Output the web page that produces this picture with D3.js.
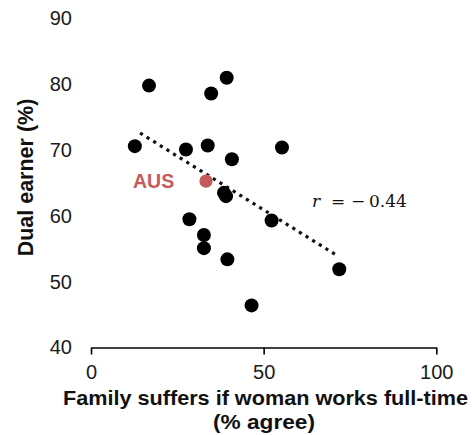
<!DOCTYPE html>
<html>
<head>
<meta charset="utf-8">
<script src="https://cdn.jsdelivr.net/npm/d3@7/dist/d3.min.js"></script>
<style>
  html, body { margin: 0; padding: 0; background: #fff; }
  svg { display: block; }
</style>
</head>
<body>
<svg id="chart" width="472" height="435"></svg>
<script>
// Share agreeing that family life suffers when the woman works full-time (x)
// against share of dual-earner couples (y), one point per country.
const familySuffers = [16.8, 39.3, 34.8, 12.7, 27.5, 33.8, 40.8, 55.3, 38.5, 39.1, 28.5, 52.3, 32.7, 32.7, 39.5, 71.9, 46.5];
const dualEarner    = [79.8, 81.0, 78.6, 70.6, 70.1, 70.7, 68.6, 70.4, 63.5, 63.0, 59.5, 59.3, 57.1, 55.1, 53.4, 51.9, 46.4];

// Highlighted country
const highlightLabel = "AUS";
const highlightX = [33.3];
const highlightY = [65.3];

// Fitted trend line end points and its correlation
const trendX = [14.2, 71.2];
const trendY = [72.6, 54.0];
const correlation = "\u22120.44";

const xTicks = [0, 50, 100];
const yTicks = [40, 50, 60, 70, 80, 90];

const svg = d3.select("#chart");

const x = d3.scaleLinear().domain([0, 100]).range([91, 436.3]);
const y = d3.scaleLinear().domain([40, 90]).range([347.5, 18.5]);

// x axis: baseline with downward ticks
const xAxis = d3.axisBottom(x).tickValues(xTicks).tickSize(7).tickSizeOuter(0).tickPadding(10);
const gx = svg.append("g").attr("transform", `translate(0,${y(40)})`).call(xAxis);
gx.select(".domain").attr("stroke", "#000").attr("stroke-width", 1.6);
gx.selectAll(".tick line").attr("stroke", "#000").attr("stroke-width", 1.6);
gx.selectAll(".tick text")
  .attr("font-family", "'Liberation Sans', Arial, sans-serif")
  .attr("font-size", 20).attr("fill", "#1a1a1a");

// y axis: labels only
const yAxis = d3.axisLeft(y).tickValues(yTicks).tickSize(0).tickPadding(0);
const gy = svg.append("g").attr("transform", "translate(72,0)").call(yAxis);
gy.select(".domain").remove();
gy.selectAll(".tick text")
  .attr("font-family", "'Liberation Sans', Arial, sans-serif")
  .attr("font-size", 20).attr("fill", "#1a1a1a");

// axis titles
const titleFont = "'Liberation Sans', Arial, sans-serif";
svg.append("text")
  .attr("x", 265.5).attr("y", 404.5)
  .attr("text-anchor", "middle")
  .attr("font-family", titleFont)
  .attr("font-weight", "bold").attr("font-size", 20.5).attr("fill", "#111")
  .attr("textLength", 405).attr("lengthAdjust", "spacingAndGlyphs")
  .text("Family suffers if woman works full-time");
svg.append("text")
  .attr("x", 264).attr("y", 429)
  .attr("text-anchor", "middle")
  .attr("font-family", titleFont)
  .attr("font-weight", "bold").attr("font-size", 20.5).attr("fill", "#111")
  .attr("textLength", 102).attr("lengthAdjust", "spacingAndGlyphs")
  .text("(% agree)");

svg.append("text")
  .attr("transform", "translate(33,177.5) rotate(-90)")
  .attr("text-anchor", "middle")
  .attr("font-family", titleFont)
  .attr("font-weight", "bold").attr("font-size", 21.5).attr("fill", "#111")
  .text("Dual earner (%)");

// trend line (dotted)
svg.append("line")
  .attr("x1", x(trendX[0])).attr("y1", y(trendY[0]))
  .attr("x2", x(trendX[1])).attr("y2", y(trendY[1]))
  .attr("stroke", "#111").attr("stroke-width", 3.2)
  .attr("stroke-dasharray", "3.2,4.6");

// country points
svg.append("g").selectAll("circle")
  .data(d3.zip(familySuffers, dualEarner))
  .join("circle")
  .attr("cx", d => x(d[0])).attr("cy", d => y(d[1]))
  .attr("r", 7).attr("fill", "#000");

// highlighted country
svg.append("g").selectAll("circle")
  .data(d3.zip(highlightX, highlightY))
  .join("circle")
  .attr("cx", d => x(d[0])).attr("cy", d => y(d[1]))
  .attr("r", 6.6).attr("fill", "#c55a5a");
svg.append("text")
  .attr("x", x(highlightX[0]) - 73).attr("y", y(highlightY[0]) + 6.5)
  .attr("font-family", titleFont)
  .attr("font-weight", "bold").attr("font-size", 19.5).attr("fill", "#c55a5a")
  .text(highlightLabel);

// correlation annotation
const rText = svg.append("text")
  .attr("y", 207)
  .attr("font-family", "'DejaVu Serif', serif")
  .attr("font-size", 17).attr("fill", "#111");
rText.append("tspan").attr("x", 312).attr("font-style", "italic").text("r");
rText.append("tspan").attr("x", 331).text("=");
rText.append("tspan").attr("x", 351).text(correlation.slice(0, 1));
rText.append("tspan").attr("x", 369).text(correlation.slice(1));
</script>
</body>
</html>
